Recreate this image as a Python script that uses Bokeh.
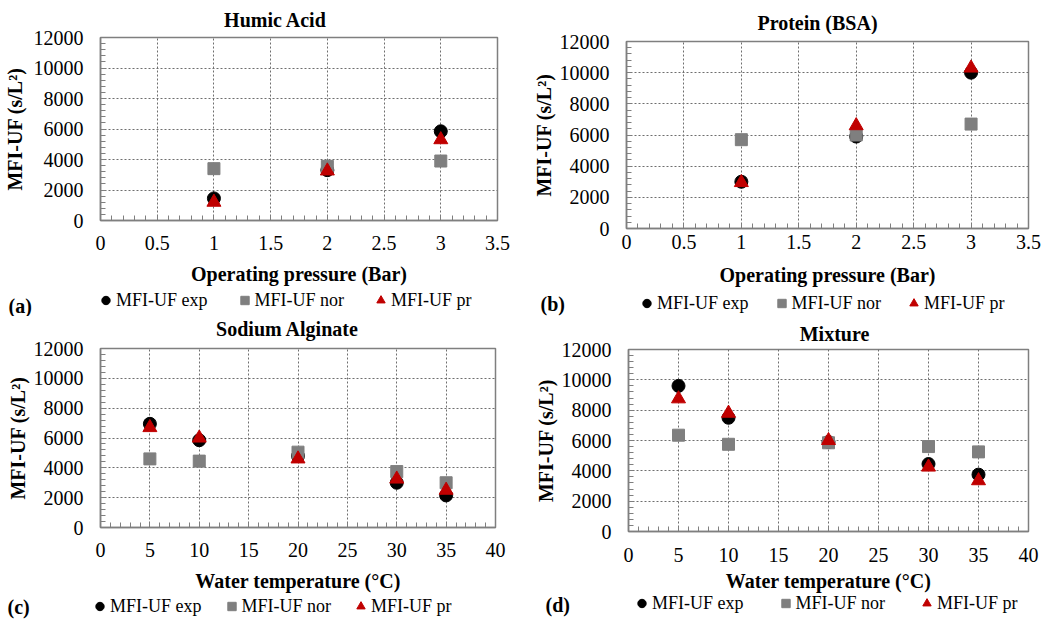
from bokeh.plotting import figure
from bokeh.models import (Range1d, SingleIntervalTicker, CustomJSTickFormatter,
                          Legend, LegendItem, Label)
from bokeh.layouts import column, row
from bokeh.embed import file_html
from bokeh.resources import INLINE

# ---------------- data ----------------
pressure = [1, 2, 3]
temperature = [5, 10, 20, 30, 35]

humic_exp = [1450, 3300, 5850]
humic_nor = [3400, 3550, 3900]
humic_pr = [1200, 3250, 5300]

bsa_exp = [3000, 5900, 10000]
bsa_nor = [5700, 6000, 6700]
bsa_pr = [2950, 6600, 10300]

alg_exp = [6950, 5850, 4800, 3000, 2150]
alg_nor = [4600, 4450, 5050, 3750, 3000]
alg_pr = [6700, 6000, 4600, 3250, 2500]

mix_exp = [9600, 7500, 5900, 4450, 3750]
mix_nor = [6350, 5750, 5850, 5600, 5250]
mix_pr = [8750, 7800, 6000, 4250, 3350]

titles = ["Humic Acid", "Protein (BSA)", "Sodium Alginate", "Mixture"]
panel_tags = ["(a)", "(b)", "(c)", "(d)"]
series_names = ["MFI-UF exp", "MFI-UF nor", "MFI-UF pr"]
x_labels = ["Operating pressure (Bar)", "Operating pressure (Bar)",
            "Water temperature (°C)", "Water temperature (°C)"]
y_label = "MFI-UF (s/L²)"
pressure_axis = (3.5, 0.5)
temperature_axis = (40, 5)
y_axis = (12000, 2000)

FONT = "Liberation Serif"
GRAY = "#7F7F7F"
RED = "#C00000"
MARKERS = [("circle", 13, "black"), ("square", 12, GRAY), ("triangle", 14, RED)]
NAN = float("nan")


def blank(width, height):
    f = figure(width=width, height=height, output_backend="svg", toolbar_location=None,
               x_range=Range1d(0, 1), y_range=Range1d(0, 1),
               x_axis_type=None, y_axis_type=None, min_border=0, frame_align=False)
    f.outline_line_color = None
    f.grid.visible = False
    f.background_fill_color = "white"
    f.border_fill_color = "white"
    return f


def title_strip(text, g):
    f = blank(g["W"], g["TH"])
    f.add_layout(Label(x=g["tx"], y=g["ty"], x_units="screen", y_units="screen",
                       text=text, text_font=FONT, text_font_size="20px",
                       text_font_style="bold", text_align="center",
                       text_baseline="middle", text_color="black"))
    return f


def legend_strip(tag, g):
    f = blank(g["W"], g["LH"])
    items = []
    for name, (mk, _, col) in zip(series_names, MARKERS):
        # legend-only renderer: a single undefined point, nothing is plotted
        r = f.scatter(x=[NAN], y=[NAN], marker=mk, color=col)
        items.append(LegendItem(label=name, renderers=[r]))
    f.add_layout(Legend(items=items, orientation="horizontal",
                        location=(g["lx"], g["ly"]),
                        margin=0, padding=0, spacing=g["sp"],
                        glyph_width=21, glyph_height=22, label_height=22,
                        label_standoff=0,
                        label_text_font=FONT, label_text_font_size="18px",
                        label_text_color="black", label_text_baseline="middle",
                        border_line_color=None, background_fill_alpha=0))
    f.add_layout(Label(x=g["ax"], y=g["ay"], x_units="screen", y_units="screen",
                       text=tag, text_font=FONT, text_font_size="20px",
                       text_font_style="bold", text_align="left",
                       text_baseline="middle", text_color="black"))
    return f


def chart(x, series, xlabel, xaxis_spec, g):
    xmax, xstep = xaxis_spec
    ymax, ystep = y_axis
    p = figure(width=g["W"], height=g["CH"], output_backend="svg", toolbar_location=None,
               x_range=Range1d(0, xmax), y_range=Range1d(0, ymax), frame_align=False,
               min_border_left=g["left"], min_border_right=g["right"],
               min_border_top=g["top"], min_border_bottom=g["bottom"])
    p.background_fill_color = "white"
    p.border_fill_color = "white"
    p.outline_line_color = GRAY
    p.outline_line_width = 1.5

    for ys, (mk, sz, col) in zip(series, MARKERS):
        p.scatter(x, ys, marker=mk, size=sz, color=col)

    p.xaxis.ticker = SingleIntervalTicker(interval=xstep, num_minor_ticks=5)
    p.yaxis.ticker = SingleIntervalTicker(interval=ystep, num_minor_ticks=5)
    p.xaxis.formatter = CustomJSTickFormatter(code="return String(Math.round(tick*10)/10);")
    p.yaxis.formatter = CustomJSTickFormatter(code="return String(Math.round(tick));")

    for ax in (p.xaxis, p.yaxis):
        ax.axis_line_color = GRAY
        ax.axis_line_width = 1.5
        ax.major_tick_in = 5
        ax.major_tick_out = 0
        ax.minor_tick_in = 5
        ax.minor_tick_out = 0
        ax.major_tick_line_color = GRAY
        ax.minor_tick_line_color = GRAY
        ax.major_label_text_font = FONT
        ax.major_label_text_font_size = "20px"
        ax.major_label_text_color = "black"
        ax.axis_label_text_font = FONT
        ax.axis_label_text_font_size = "20px"
        ax.axis_label_text_font_style = "bold"
        ax.axis_label_text_color = "black"

    p.xaxis.axis_label = xlabel
    p.yaxis.axis_label = y_label
    p.xaxis.major_label_standoff = g["xstand"]
    p.xaxis.axis_label_standoff = g["xlstand"]
    p.yaxis.major_label_standoff = 17
    p.yaxis.axis_label_standoff = g["ylstand"]

    p.grid.grid_line_color = "#6E6E6E"
    p.grid.grid_line_dash = "2 2"
    p.grid.grid_line_width = 1
    return p


def panel(x, series, title, tag, xlabel, xaxis_spec, g):
    return column(title_strip(title, g), chart(x, series, xlabel, xaxis_spec, g),
                  legend_strip(tag, g), spacing=0)


ga = dict(W=520, TH=30, CH=258, LH=28, left=99, right=23, top=7, bottom=68,
          tx=275, ty=11, lx=95, ly=5, sp=26, ax=8, ay=11,
          xstand=15, xlstand=10, ylstand=5)
gb = dict(W=532, TH=34, CH=254, LH=28, left=106, right=24, top=7, bottom=59,
          tx=297, ty=12, lx=116, ly=2, sp=22, ax=20, ay=13,
          xstand=6, xlstand=12, ylstand=2)
gc = dict(W=520, TH=25, CH=255, LH=23, left=100, right=25, top=7, bottom=69,
          tx=287, ty=13, lx=89, ly=2, sp=19, ax=7, ay=13,
          xstand=15, xlstand=10, ylstand=2)
gd = dict(W=532, TH=26, CH=254, LH=23, left=108, right=24, top=7, bottom=65,
          tx=314, ty=9, lx=111, ly=5, sp=31, ax=25, ay=15,
          xstand=16, xlstand=5, ylstand=2)

pa = panel(pressure, [humic_exp, humic_nor, humic_pr], titles[0], panel_tags[0],
           x_labels[0], pressure_axis, ga)
pb = panel(pressure, [bsa_exp, bsa_nor, bsa_pr], titles[1], panel_tags[1],
           x_labels[1], pressure_axis, gb)
pc = panel(temperature, [alg_exp, alg_nor, alg_pr], titles[2], panel_tags[2],
           x_labels[2], temperature_axis, gc)
pd_ = panel(temperature, [mix_exp, mix_nor, mix_pr], titles[3], panel_tags[3],
            x_labels[3], temperature_axis, gd)

layout = column(row(pa, pb, spacing=0), row(pc, pd_, spacing=0), spacing=0)
open("out.html", "w").write(file_html(layout, INLINE))
